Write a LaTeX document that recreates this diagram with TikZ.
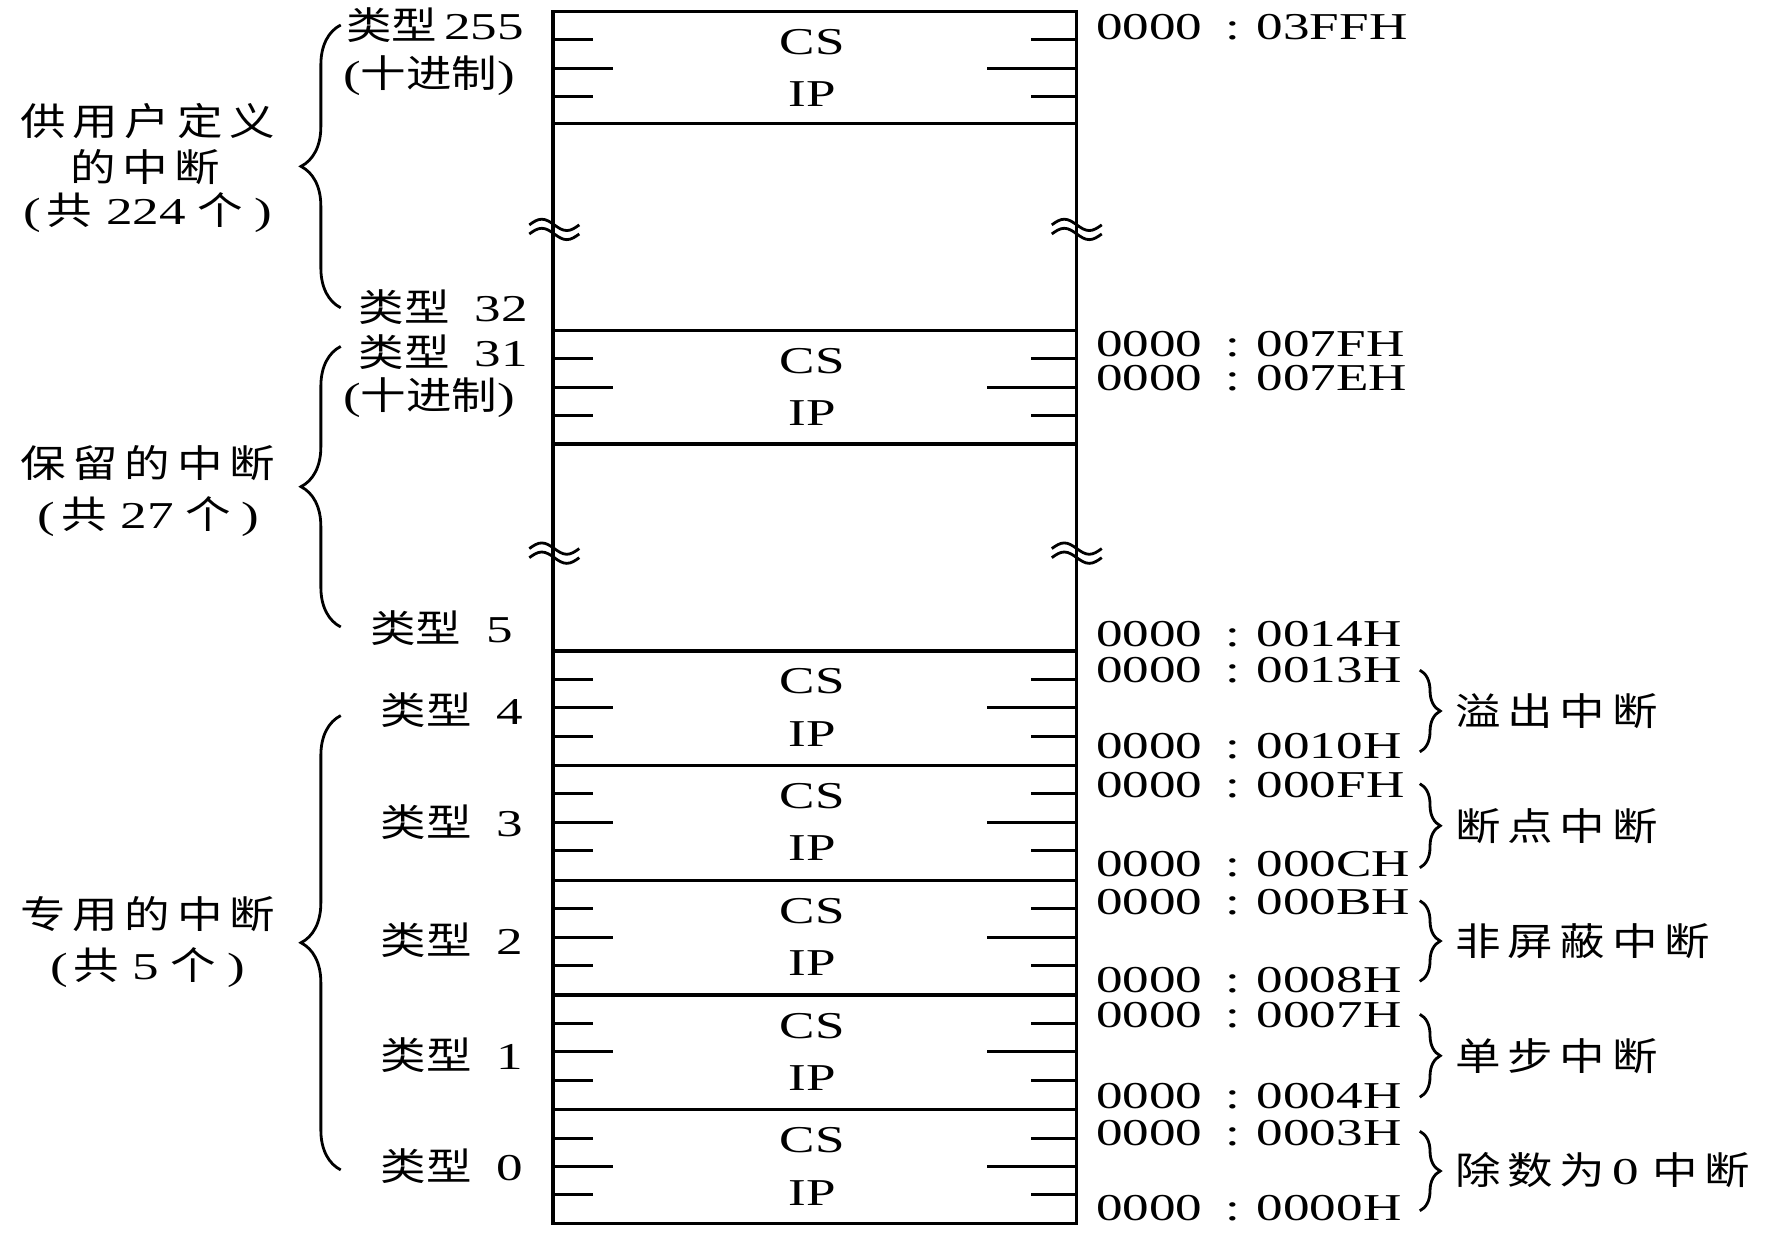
\documentclass[tikz,border=0pt]{standalone}
\usepackage{fontspec}
\setmainfont[FakeStretch=1.4]{Liberation Serif}
\newfontfamily\cjk[FakeStretch=1.2]{Noto Sans CJK SC}
\newfontfamily\cjkw[FakeStretch=1.2,LetterSpace=18]{Noto Sans CJK SC}
\usetikzlibrary{decorations.pathreplacing}
\newcommand\zh[1]{{\cjk #1}}
\newcommand\zhw[1]{{\cjkw #1}}
\newcommand\addr[2]{#1\hspace{0.2cm}:\hspace{0.15cm}#2}
\newcommand\typ[1]{\zh{类型}\hspace{0.22cm}#1}
\begin{document}
\begin{tikzpicture}[x=0.01cm,y=-0.01cm,
  every node/.style={inner sep=0pt,outer sep=0pt,font=\fontsize{9.5pt}{11pt}\selectfont},
  frame/.style={line width=0.85pt},
  tickl/.style={line width=0.75pt},
  brc/.style={line width=0.7pt,decorate,decoration={brace,amplitude=#1}},
  wave/.style={line width=0.7pt},
  lbl/.style={anchor=west},
  adr/.style={anchor=west}]
\useasboundingbox (0,0) rectangle (1568,1086);
% frame
\draw[frame] (487,10) rectangle (948,1077);
\foreach \yy in {109,291,391,573,674,775,876,977}
  \draw[frame] (487,\yy) -- (948,\yy);
% blocks with ticks and CS/IP
\foreach \t/\n in {10/a,291/b,573/c,674/d,775/e,876/f,977/g}{
  \draw[tickl] (487,\t+25) -- (522,\t+25);
  \draw[tickl] (487,\t+50) -- (540,\t+50);
  \draw[tickl] (487,\t+75) -- (522,\t+75);
  \draw[tickl] (908,\t+25) -- (948,\t+25);
  \draw[tickl] (869,\t+50) -- (948,\t+50);
  \draw[tickl] (908,\t+75) -- (948,\t+75);
  \node (cs\n) at (715,\t+27) {CS};
  \node (ip\n) at (715,\t+73) {IP};
}
% break marks
\foreach \cx/\cy in {488/201,948/201,488/486,948/486}{
  \draw[wave] (\cx-22,\cy-3) sin (\cx-11,\cy-8) cos (\cx,\cy-3) sin (\cx+11,\cy+2) cos (\cx+22,\cy-3);
  \draw[wave] (\cx-22,\cy+5) sin (\cx-11,\cy) cos (\cx,\cy+5) sin (\cx+11,\cy+10) cos (\cx+22,\cy+5);
}
% left type labels
\node[lbl] (t255) at (305,22) {\zh{类型}\hspace{0.06cm}255};
\node[lbl] (d1) at (302,67) {(\zh{十进制})};
\node[lbl] (t32) at (316,270) {\typ{32}};
\node[lbl] (t31) at (316,310) {\typ{31}};
\node[lbl] (d2) at (302,350) {(\zh{十进制})};
\node[lbl] (t5) at (326,553) {\typ{5}};
\node[lbl] (t4) at (335,625) {\typ{4}};
\node[lbl] (t3) at (335,724) {\typ{3}};
\node[lbl] (t2) at (335,828) {\typ{2}};
\node[lbl] (t1) at (335,929) {\typ{1}};
\node[lbl] (t0) at (335,1027) {\typ{0}};
% group labels
\node (g1a) at (130,107) {\zhw{供用户定义}};
\node (g1b) at (128,147) {\zhw{的中断}};
\node (g1c) at (130,187) {(\hspace{0.05cm}\zh{共}\hspace{0.12cm}224\hspace{0.1cm}\zh{个}\hspace{0.1cm})};
\node (g2a) at (130,408) {\zhw{保留的中断}};
\node (g2b) at (131,455) {(\hspace{0.05cm}\zh{共}\hspace{0.12cm}27\hspace{0.1cm}\zh{个}\hspace{0.1cm})};
\node (g3a) at (130,805) {\zhw{专用的中断}};
\node (g3b) at (130,852) {(\hspace{0.05cm}\zh{共}\hspace{0.12cm}5\hspace{0.1cm}\zh{个}\hspace{0.1cm})};
% left braces
\coordinate (L1b) at (300,271); \coordinate (L1t) at (300,22);
\coordinate (L2b) at (300,552); \coordinate (L2t) at (300,305);
\coordinate (L3b) at (300,1030); \coordinate (L3t) at (300,630);
\draw[brc=0.35cm] (L1b) -- (L1t);
\draw[brc=0.35cm] (L2b) -- (L2t);
\draw[brc=0.35cm] (L3b) -- (L3t);
% addresses
\node[adr] (a03FF) at (965,24) {\addr{0000}{03FFH}};
\node[adr] (a007F) at (965,303) {\addr{0000}{007FH}};
\node[adr] (a007E) at (965,333) {\addr{0000}{007EH}};
\node[adr] (a0014) at (965,558) {\addr{0000}{0014H}};
\node[adr] (a0013) at (965,590) {\addr{0000}{0013H}};
\node[adr] (a0010) at (965,657) {\addr{0000}{0010H}};
\node[adr] (a000F) at (965,691) {\addr{0000}{000FH}};
\node[adr] (a000C) at (965,761) {\addr{0000}{000CH}};
\node[adr] (a000B) at (965,794) {\addr{0000}{000BH}};
\node[adr] (a0008) at (965,863) {\addr{0000}{0008H}};
\node[adr] (a0007) at (965,894) {\addr{0000}{0007H}};
\node[adr] (a0004) at (965,965) {\addr{0000}{0004H}};
\node[adr] (a0003) at (965,998) {\addr{0000}{0003H}};
\node[adr] (a0000) at (965,1064) {\addr{0000}{0000H}};
% right braces and labels
\foreach \n/\ta/\tb in {4/590/662,3/690/764,2/793/864,1/893/966,0/996/1066}{
  \coordinate (R\n t) at (1250,\ta);
  \coordinate (R\n b) at (1250,\tb);
  \draw[brc=0.18cm] (R\n t) -- (R\n b);
}
\node[lbl] (n4) at (1281,626) {\zhw{溢出中断}};
\node[lbl] (n3) at (1281,727) {\zhw{断点中断}};
\node[lbl] (n2) at (1281,829) {\zhw{非屏蔽中断}};
\node[lbl] (n1) at (1281,930) {\zhw{单步中断}};
\node[lbl] (n0) at (1281,1030) {\zhw{除数为}\hspace{0.06cm}0\hspace{0.12cm}\zhw{中断}};
\end{tikzpicture}
\end{document}
